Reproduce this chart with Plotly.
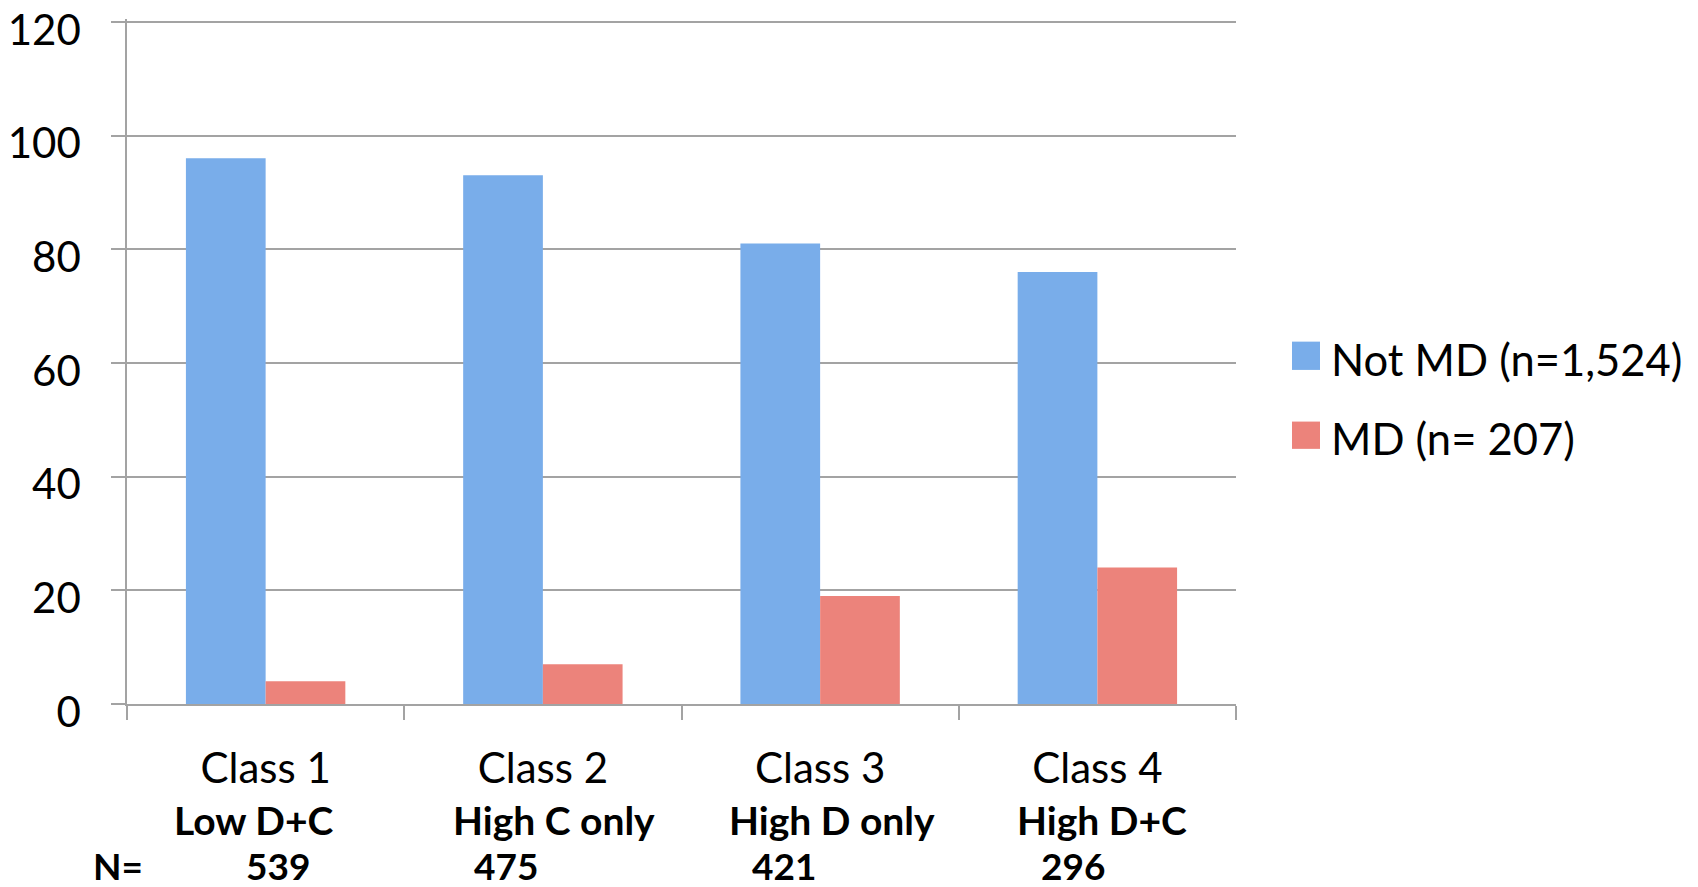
import plotly.graph_objects as go

# ---- data ----
categories = ["Class 1", "Class 2", "Class 3", "Class 4"]
profiles = ["Low D+C", "High C only", "High D only", "High D+C"]
class_n = [539, 475, 421, 296]
not_md = [96, 93, 81, 76]
md = [4, 7, 19, 24]
series_names = ["Not MD (n=1,524)", "MD (n= 207)"]
y_ticks = [0, 20, 40, 60, 80, 100, 120]

# ---- geometry / style ----
W, H = 1698, 887
Y_MAX = 120.5            # a hair above the last tick so its gridline is kept
ZERO_PX, TOP_TICK_PX = 704.3, 21.7
PX_PER_UNIT = (ZERO_PX - TOP_TICK_PX) / 120
L, R = 127, 462
T = TOP_TICK_PX - (Y_MAX - 120) * PX_PER_UNIT
B = H - ZERO_PX
PW = W - L - R
PH = H - T - B


def px_x(px):
    return (px - L) / PW


def px_y(py):
    return (H - B - py) / PH


BLUE = "#79adea"
RED = "#ec837b"
GRID = "#a3a3a3"
FONT = "Lato"

# horizontal nudges (px) of the label rows under each class
profile_shift = [-12, 11, 12, 5]
n_shift = [12, -37, -36, -24]

fig = go.Figure()
fig.add_trace(go.Bar(x=categories, y=not_md, name=series_names[0],
                     marker=dict(color=BLUE, line=dict(width=0)),
                     showlegend=False))
fig.add_trace(go.Bar(x=categories, y=md, name=series_names[1],
                     marker=dict(color=RED, line=dict(width=0)),
                     showlegend=False))

annotations = []
for cat, prof, n, s1, s2 in zip(categories, profiles, class_n, profile_shift, n_shift):
    annotations.append(dict(x=cat, xref="x", y=0, yref="y", yanchor="middle",
                            xanchor="center", xshift=s1, yshift=-116,
                            text=f"<b>{prof}</b>", showarrow=False, borderpad=0,
                            font=dict(family=FONT, size=39, color="black")))
    annotations.append(dict(x=cat, xref="x", y=0, yref="y", yanchor="middle",
                            xanchor="center", xshift=s2, yshift=-161,
                            text=f"<b>{n}</b>", showarrow=False, borderpad=0,
                            font=dict(family=FONT, size=37, color="black")))
annotations.append(dict(x=px_x(92), xref="paper", y=0, yref="y", yanchor="middle",
                        xanchor="left", yshift=-161, text="<b>N=</b>",
                        showarrow=False, borderpad=0,
                        font=dict(family=FONT, size=37, color="black")))

# legend: square swatches with labels to the right of the plot
shapes = []
legend_rows = [(BLUE, series_names[0], 341.7, 370.0),
               (RED, series_names[1], 421.7, 449.0)]
for color, label, top, bottom in legend_rows:
    shapes.append(dict(type="rect", xref="paper", yref="paper",
                       x0=px_x(1292), x1=px_x(1320),
                       y0=px_y(bottom), y1=px_y(top),
                       fillcolor=color, line=dict(width=0)))
    annotations.append(dict(x=px_x(1329), xref="paper",
                            y=px_y((top + bottom) / 2 + 3), yref="paper",
                            xanchor="left", yanchor="middle", text=label,
                            showarrow=False,
                            font=dict(family=FONT, size=43.5, color="black")))

fig.update_layout(
    width=W, height=H,
    margin=dict(l=L, r=R, t=T, b=B, pad=0, autoexpand=False),
    paper_bgcolor="white", plot_bgcolor="white",
    barmode="group", bargap=0.425, bargroupgap=0,
    showlegend=False,
    font=dict(family=FONT, color="black"),
    annotations=annotations,
    shapes=shapes,
    xaxis=dict(
        type="category", categoryorder="array", categoryarray=categories,
        tickson="boundaries", ticks="outside", ticklen=14, tickwidth=1.6,
        tickcolor=GRID, showline=True, linecolor=GRID, linewidth=1.6,
        showgrid=False, zeroline=False, automargin=False,
        tickfont=dict(family=FONT, size=42, color="black"),
        ticklabelstandoff=27,
    ),
    yaxis=dict(
        range=[0, Y_MAX], tickvals=y_ticks, ticks="outside", ticklen=14,
        tickwidth=1.6, tickcolor=GRID, showline=True, linecolor=GRID,
        linewidth=1.6, showgrid=True, gridcolor=GRID, gridwidth=1.6,
        zeroline=False, automargin=False, ticklabeloverflow="allow",
        tickfont=dict(family=FONT, size=42, color="black"),
        ticklabelstandoff=22, ticklabelshift=8,
    ),
)

fig.write_html("out.html")
